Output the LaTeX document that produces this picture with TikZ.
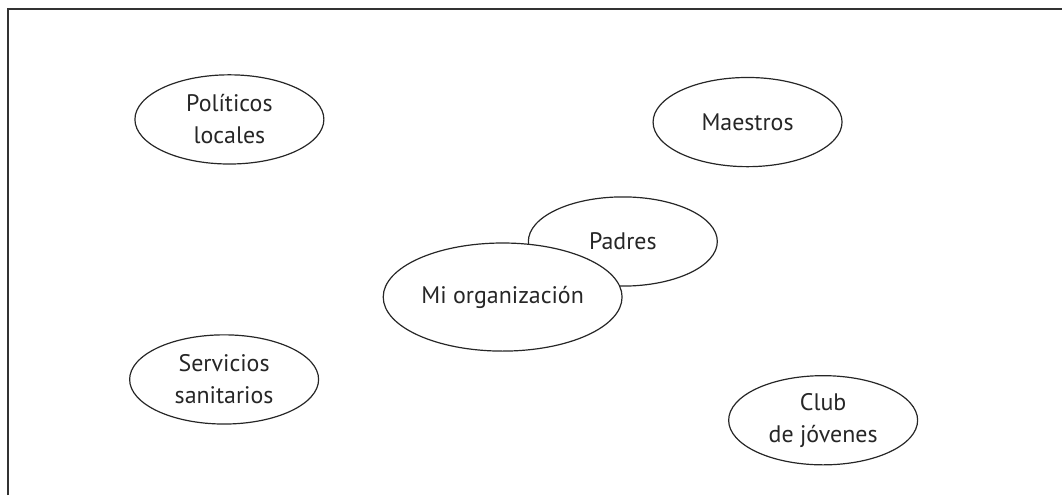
\documentclass[tikz,border=0pt]{standalone}
\usepackage{fontspec}
\setmainfont{PT Sans}
\usetikzlibrary{shapes.geometric}

\begin{document}
\begin{tikzpicture}[
    grupo/.style={ellipse, draw=black!85, line width=.9pt, fill=white, inner sep=0pt,
      minimum width=5cm, minimum height=2.36cm, align=center, text=black!85,
      font=\fontsize{18}{24}\selectfont}]
      \useasboundingbox (0,0) rectangle (28.10,13.10);
      \draw [black!80, line width=1.2pt] (0.21,0) -- (0.21,12.86) -- (28.10,12.86);
      \node [grupo] (polit) at (6.07,9.94) {Políticos\\locales};
      \node [grupo] (maestros) at (19.78,9.87) {Maestros};
      \node [grupo] (padres) at (16.48,6.71) {Padres};
      \node [grupo, minimum width=6.32cm, minimum height=2.86cm] (miorg) at (13.30,5.24) {Mi organización};
      \node [grupo] (salud) at (5.93,3.06) {Servicios\\sanitarios};
      \node [grupo] (club) at (21.78,1.98) {Club\\de jóvenes};
    \end{tikzpicture}
\end{document}
